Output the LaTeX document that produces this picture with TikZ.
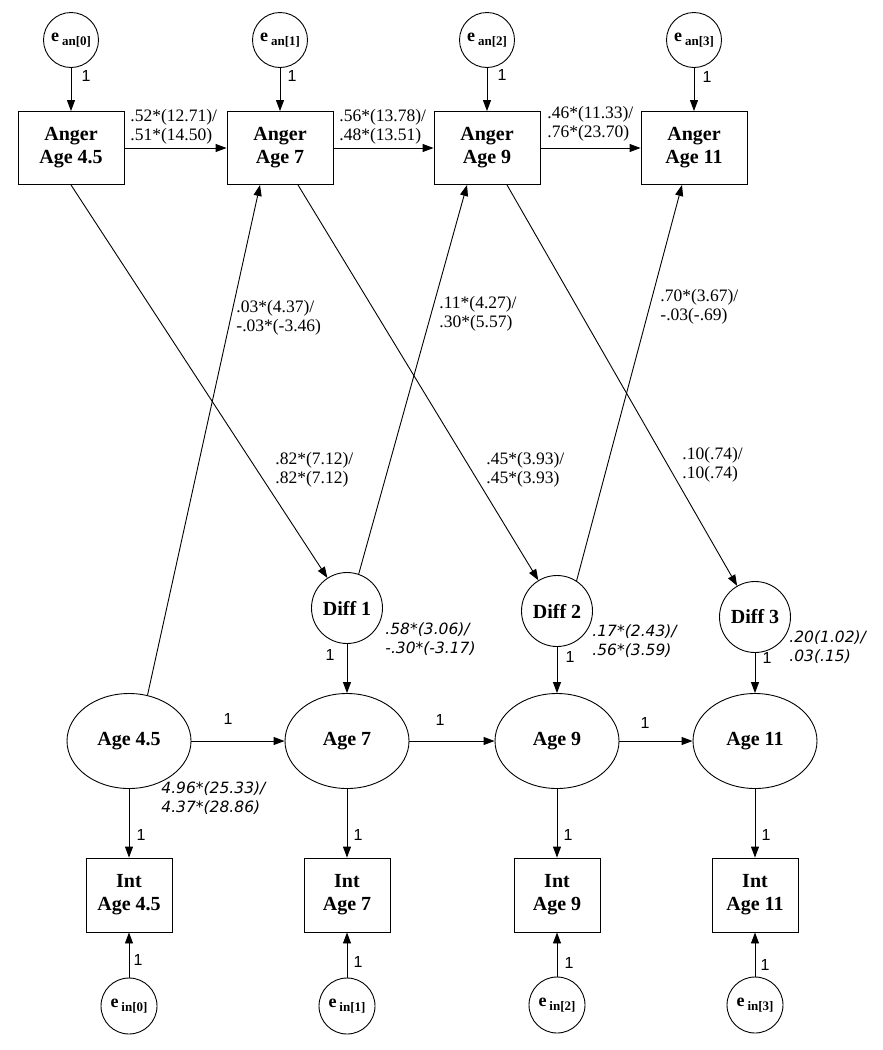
\documentclass[tikz,border=0pt]{standalone}
\usepackage{fontspec}
\setmainfont{Liberation Serif}
\newfontfamily\arialfont{Liberation Sans}
\newfontfamily\dejavufont{DejaVu Sans}
\usetikzlibrary{shapes.geometric, arrows.meta}
\newcommand{\elab}[1]{\textbf{\fontsize{18}{18}\selectfont e\,\raisebox{-4pt}{\fontsize{13}{13}\selectfont #1}}}

\begin{document}
\begin{tikzpicture}[x=1pt, y=-1pt, line width=0.9pt, >={Triangle[length=11pt,width=8pt]},
        anger/.style={draw, rectangle, minimum width=106pt, minimum height=73pt, inner sep=0pt, align=center, font=\bfseries\fontsize{20}{23}\selectfont},
        intbox/.style={anger, minimum width=86pt, minimum height=74pt},
        err/.style={draw, circle, minimum size=55pt, inner sep=0pt},
        diff/.style={draw, circle, minimum size=71pt, inner sep=0pt, font=\bfseries\fontsize{20}{23}\selectfont},
        latent/.style={draw, ellipse, minimum width=124pt, minimum height=95pt, inner sep=0pt, font=\bfseries\fontsize{20}{23}\selectfont},
        coef/.style={anchor=west, align=left, inner sep=0pt, font=\fontsize{17.5}{19.5}\selectfont},
        icoef/.style={anchor=west, align=left, inner sep=0pt, font=\dejavufont\itshape\fontsize{15.5}{18.5}\selectfont},
        one/.style={inner sep=0pt, font=\arialfont\fontsize{16}{16}\selectfont}]
        \useasboundingbox (0,0) rectangle (883,1050);
        % anger row
        \node[err] (ean0) at (71,40) {\elab{an[0]}};
        \node[err] (ean1) at (280,40) {\elab{an[1]}};
        \node[err] (ean2) at (487,40) {\elab{an[2]}};
        \node[err] (ean3) at (694,40) {\elab{an[3]}};
        \node[anger] (ang1) at (71,148) {Anger\\Age 4.5};
        \node[anger] (ang2) at (280,148) {Anger\\Age 7};
        \node[anger] (ang3) at (487,148) {Anger\\Age 9};
        \node[anger] (ang4) at (694,148) {Anger\\Age 11};
        % difference scores
        \node[diff] (diff1) at (347,608) {Diff 1};
        \node[diff] (diff2) at (557,611) {Diff 2};
        \node[diff] (diff3) at (755,617) {Diff 3};
        % internalizing
        \node[latent] (age1) at (129,741) {Age 4.5};
        \node[latent] (age2) at (347,741) {Age 7};
        \node[latent] (age3) at (557,741) {Age 9};
        \node[latent] (age4) at (755,741) {Age 11};
        \node[intbox] (int1) at (129,895) {Int\\Age 4.5};
        \node[intbox] (int2) at (347,895) {Int\\Age 7};
        \node[intbox] (int3) at (557,895) {Int\\Age 9};
        \node[intbox] (int4) at (755,895) {Int\\Age 11};
        \node[err, minimum size=56pt] (ein0) at (129,1006) {\elab{in[0]}};
        \node[err, minimum size=56pt] (ein1) at (347,1006) {\elab{in[1]}};
        \node[err, minimum size=56pt] (ein2) at (557,1005) {\elab{in[2]}};
        \node[err, minimum size=56pt] (ein3) at (755,1005) {\elab{in[3]}};

        \draw[->] (ean0) -- (ang1);
        \draw[->] (ean1) -- (ang2);
        \draw[->] (ean2) -- (ang3);
        \draw[->] (ean3) -- (ang4);
        \draw[->] (ang1) -- (ang2);
        \draw[->] (ang2) -- (ang3);
        \draw[->] (ang3) -- (ang4);
        \draw[->] (ang1.south) -- (diff1);
        \draw[->] ([xshift=18pt]ang2.south) -- (diff2);
        \draw[->] ([xshift=20pt]ang3.south) -- (diff3);
        \draw[->] (age1.68) -- ([xshift=-20pt]ang2.south);
        \draw[->] (diff1.71) -- ([xshift=-20pt]ang3.south);
        \draw[->] (diff2.57) -- ([xshift=-12pt]ang4.south);
        \draw[->] (diff1) -- (age2);
        \draw[->] (diff2) -- (age3);
        \draw[->] (diff3) -- (age4);
        \draw[->] (age1) -- (age2);
        \draw[->] (age2) -- (age3);
        \draw[->] (age3) -- (age4);
        \draw[->] (age1) -- (int1);
        \draw[->] (age2) -- (int2);
        \draw[->] (age3) -- (int3);
        \draw[->] (age4) -- (int4);
        \draw[->] (ein0) -- (int1);
        \draw[->] (ein1) -- (int2);
        \draw[->] (ein2) -- (int3);
        \draw[->] (ein3) -- (int4);

        % coefficients
        \node[coef] (c12) at (130,127) {.52*(12.71)/\\.51*(14.50)};
        \node[coef] (c23) at (339,127) {.56*(13.78)/\\.48*(13.51)};
        \node[coef] (c34) at (547,124) {.46*(11.33)/\\.76*(23.70)};
        \node[coef] (cx1) at (236,318) {.03*(4.37)/\\-.03*(-3.46)};
        \node[coef] (cx2) at (439,314) {.11*(4.27)/\\.30*(5.57)};
        \node[coef] (cx3) at (660,307) {.70*(3.67)/\\-.03(-.69)};
        \node[coef] (cd1) at (275,470) {.82*(7.12)/\\.82*(7.12)};
        \node[coef] (cd2) at (486,470) {.45*(3.93)/\\.45*(3.93)};
        \node[coef] (cd3) at (682,465) {.10(.74)/\\.10(.74)};
        \node[icoef] (v1) at (385,639) {.58*(3.06)/\\-.30*(-3.17)};
        \node[icoef] (v2) at (592,641) {.17*(2.43)/\\.56*(3.59)};
        \node[icoef] (v3) at (789,647) {.20(1.02)/\\.03(.15)};
        \node[icoef] (v0) at (161,798) {4.96*(25.33)/\\4.37*(28.86)};

        % fixed loadings
        \node[one] (o1) at (86,76) {1};
        \node[one] (o2) at (292,76) {1};
        \node[one] (o3) at (502,75) {1};
        \node[one] (o4) at (707,77) {1};
        \node[one] (o5) at (330,655) {1};
        \node[one] (o6) at (570,657) {1};
        \node[one] (o7) at (767,658) {1};
        \node[one] (o8) at (228,719) {1};
        \node[one] (o9) at (440,720) {1};
        \node[one] (o10) at (645,723) {1};
        \node[one] (o11) at (141,835) {1};
        \node[one] (o12) at (358,835) {1};
        \node[one] (o13) at (568,835) {1};
        \node[one] (o14) at (766,835) {1};
        \node[one] (o15) at (138,960) {1};
        \node[one] (o16) at (358,962) {1};
        \node[one] (o17) at (569,963) {1};
        \node[one] (o18) at (765,965) {1};
\end{tikzpicture}
\end{document}
